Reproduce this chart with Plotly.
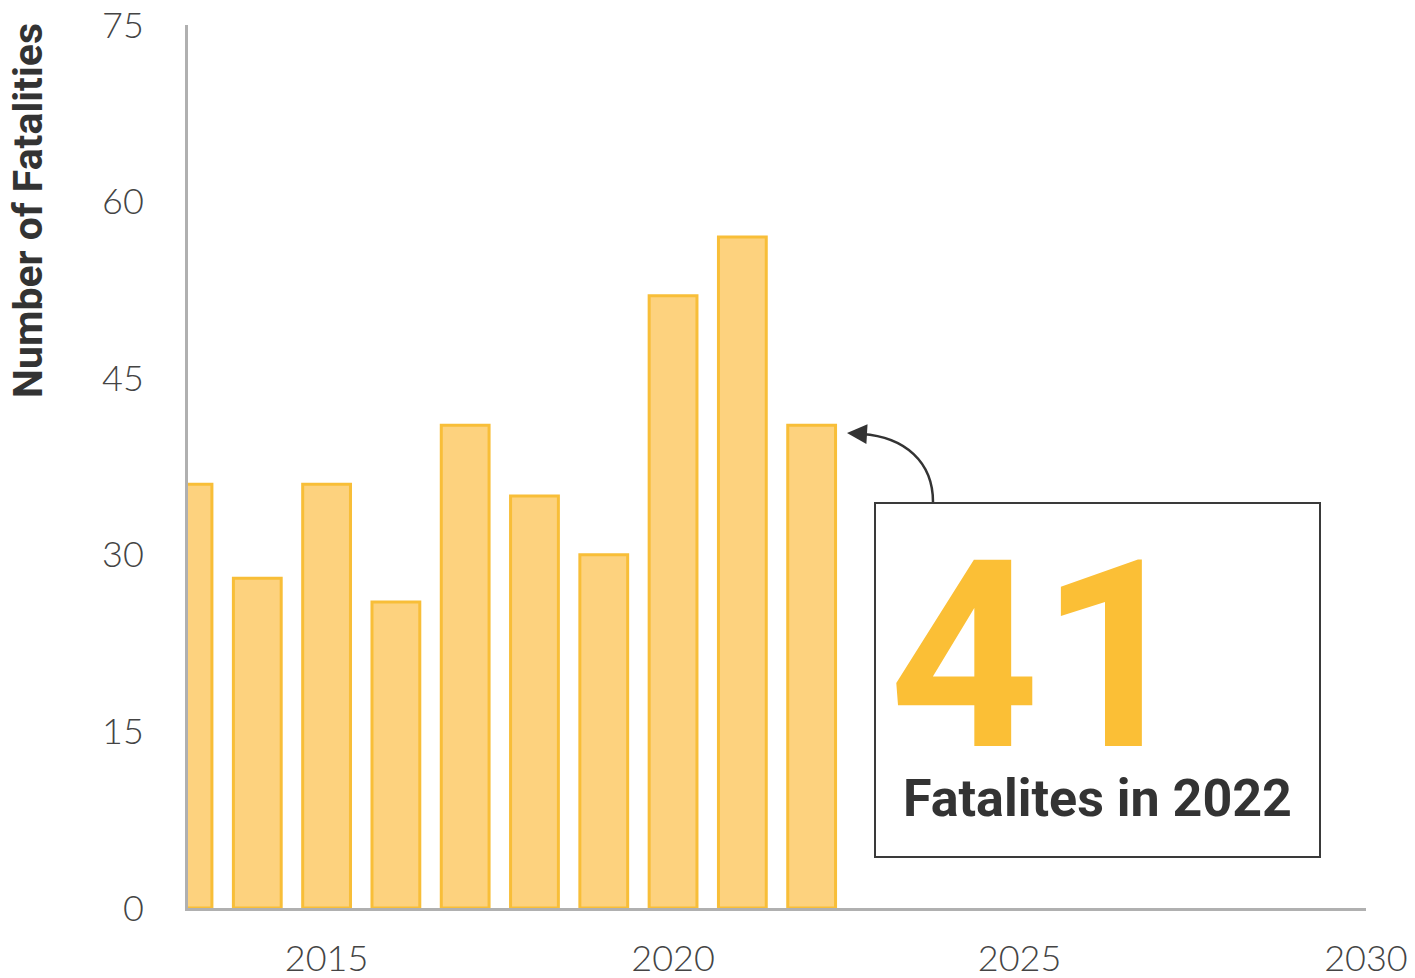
import plotly.graph_objects as go

years = [2013, 2014, 2015, 2016, 2017, 2018, 2019, 2020, 2021, 2022]
fatalities = [36, 28, 36, 26, 41, 35, 30, 52, 57, 41]
x_ticks = [2015, 2020, 2025, 2030]
y_ticks = [0, 15, 30, 45, 60, 75]
highlight_value = "41"
highlight_label = "Fatalites in 2022"
y_title = "Number of Fatalities"

# page offset of the plotly div (body margin)
OFF = 8
W, H = 1415 - OFF, 978 - OFF
# target plot area in page pixels: x 188..1366, y 25..908
L, T = 188 - OFF, 25 - OFF
R = W - (1366 - OFF)
B = H - (908 - OFF)
X0, X1 = 2013, 2030
Y0, Y1 = 0, 75
PW, PH = W - L - R, H - T - B

def px_to_x(px):
    return X0 + (px - OFF - L) / PW * (X1 - X0)

def px_to_y(py):
    return Y0 + (H - B - (py - OFF)) / PH * (Y1 - Y0)

fig = go.Figure()
fig.add_trace(go.Bar(
    x=years, y=fatalities, width=0.69,
    marker=dict(color="#FDD27E", line=dict(color="#F8BE38", width=3)),
    hoverinfo="x+y",
))

# callout box
fig.add_shape(type="rect", xref="x", yref="y",
              x0=px_to_x(875), x1=px_to_x(1320), y0=px_to_y(857), y1=px_to_y(503),
              line=dict(color="#3a3a3a", width=2), fillcolor="rgba(0,0,0,0)", layer="above")

# curved arrow
p0 = (px_to_x(933), px_to_y(502))
c1 = (px_to_x(933), px_to_y(462))
c2 = (px_to_x(905), px_to_y(437))
p1 = (px_to_x(862), px_to_y(434))
fig.add_shape(type="path", xref="x", yref="y",
              path=f"M {p0[0]},{p0[1]} C {c1[0]},{c1[1]} {c2[0]},{c2[1]} {p1[0]},{p1[1]}",
              line=dict(color="#333333", width=2.5))
fig.add_annotation(x=px_to_x(847), y=px_to_y(433), ax=18, ay=1, xref="x", yref="y",
                   axref="pixel", ayref="pixel", text="", showarrow=True,
                   arrowhead=2, arrowsize=1.6, arrowwidth=2.5, arrowcolor="#333333")

fig.add_annotation(x=px_to_x(1039), y=px_to_y(656), xref="x", yref="y",
                   text=f"<b>{highlight_value}</b>", showarrow=False,
                   font=dict(family="Roboto", size=262, color="#FBBF36"))
fig.add_annotation(x=px_to_x(1097), y=px_to_y(798), xref="x", yref="y",
                   text=f"<b>{highlight_label}</b>", showarrow=False,
                   font=dict(family="Roboto", size=52, color="#333333"))

fig.add_annotation(x=(28 - OFF - L) / PW, y=(H - B - (211 - OFF)) / PH, xref="paper", yref="paper",
                   xanchor="center", yanchor="middle",
                   text=f"<b>{y_title}</b>", textangle=-90, showarrow=False,
                   font=dict(family="Roboto", size=41, color="#333333"))

fig.update_layout(
    width=W, height=H,
    margin=dict(l=L, r=R, t=T, b=B),
    plot_bgcolor="white", paper_bgcolor="white",
    showlegend=False,
    font=dict(family="Lato", color="#444444"),
)

fig.update_xaxes(range=[X0, X1], tickvals=x_ticks, ticktext=[str(v) for v in x_ticks],
                 showgrid=False, zeroline=False, showline=True, linecolor="#B0B0B0", linewidth=3,
                 ticks="outside", ticklen=17, tickcolor="rgba(0,0,0,0)", automargin=False,
                 ticklabeloverflow="allow",
                 tickfont=dict(family="Lato", size=36, color="#444444", weight=300))
fig.update_yaxes(range=[Y0, Y1], tickvals=y_ticks, ticktext=[str(v) for v in y_ticks],
                 showgrid=False, zeroline=False, showline=True, linecolor="#B0B0B0", linewidth=3,
                 ticks="outside", ticklen=34, tickcolor="rgba(0,0,0,0)", automargin=False,
                 ticklabeloverflow="allow",
                 tickfont=dict(family="Lato", size=36, color="#444444", weight=300))

fig.write_html("out.html")
